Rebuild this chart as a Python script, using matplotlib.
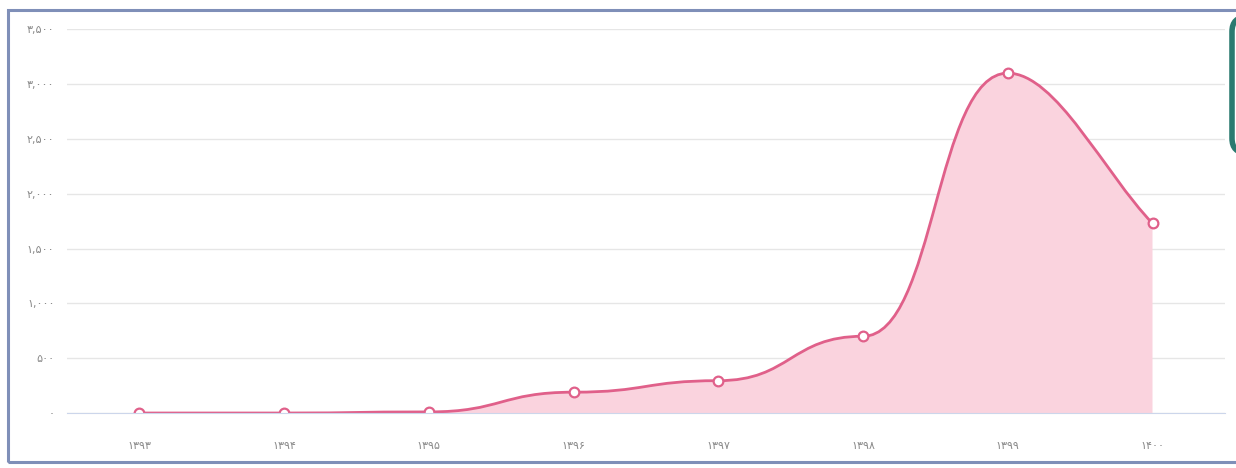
import numpy as np
import matplotlib.pyplot as plt
from matplotlib.path import Path
from matplotlib.patches import PathPatch, Rectangle, FancyBboxPatch

# data
years = ['۱۳۹۳', '۱۳۹۴', '۱۳۹۵', '۱۳۹۶', '۱۳۹۷', '۱۳۹۸', '۱۳۹۹', '۱۴۰۰']
values = [0, 0, 10, 190, 295, 700, 3100, 1730]
y_ticks = [0, 500, 1000, 1500, 2000, 2500, 3000, 3500]
y_labels = ['۰', '۵۰۰', '۱,۰۰۰', '۱,۵۰۰', '۲,۰۰۰', '۲,۵۰۰', '۳,۰۰۰', '۳,۵۰۰']

LINE = '#e0608a'
FILL = '#fad3de'


def smooth_path(xs, ys):
    # flat tangent at every inner point, the last point keeps the slope of its segment
    n = len(xs)
    verts = [(xs[0], ys[0])]
    codes = [Path.MOVETO]
    for i in range(1, n):
        x0, y0, x1, y1 = xs[i - 1], ys[i - 1], xs[i], ys[i]
        dx = x1 - x0
        if i == n - 1:
            slope = (y1 - y0) / dx
            c1 = (x0 + dx / 3, y0)
            c2 = (x1 - dx / 3, y1 - slope * dx / 3)
        else:
            c1 = (x0 + dx / 2, y0)
            c2 = (x1 - dx / 2, y1)
        verts += [c1, c2, (x1, y1)]
        codes += [Path.CURVE4] * 3
    return verts, codes


x = np.arange(len(years))
fig = plt.figure(figsize=(12.36, 4.68), dpi=100)
ax = fig.add_axes([0.0542, 0.1175, 0.9368, 0.8199])

verts, codes = smooth_path(list(x), values)
fill_verts = verts + [(x[-1], 0), (x[0], 0), (x[0], values[0])]
fill_codes = codes + [Path.LINETO, Path.LINETO, Path.CLOSEPOLY]
ax.add_patch(PathPatch(Path(fill_verts, fill_codes), facecolor=FILL, edgecolor='none', zorder=2))
ax.add_patch(PathPatch(Path(verts, codes), facecolor='none', edgecolor=LINE, lw=2, zorder=3))
ax.plot(x, values, 'o', ms=7, mfc='white', mec=LINE, mew=1.6, zorder=4)

ax.set_xlim(-0.5, len(years) - 0.5)
ax.set_ylim(0, 3500)
ax.set_yticks(y_ticks)
ax.set_yticklabels(y_labels)
ax.set_xticks(x)
ax.set_xticklabels(years)
ax.tick_params(axis='both', length=0, labelsize=8, labelcolor='#8a8a8a')
ax.tick_params(axis='y', pad=9)
ax.tick_params(axis='x', pad=20)
ax.grid(axis='y', color='#e6e6e6', lw=1)
ax.set_axisbelow(True)
for s in ['top', 'right', 'left']:
    ax.spines[s].set_visible(False)
ax.spines['bottom'].set_color('#ccd6eb')
ax.spines['bottom'].set_zorder(5)

# outer frame and the box cut off on the right
fig.patches.append(Rectangle((8 / 1236, 6 / 468), 1.1, 1 - 16 / 468, transform=fig.transFigure,
                             fill=False, edgecolor='#7f8fb8', lw=2.2))
fig.patches.append(FancyBboxPatch((1232 / 1236, 315 / 468), 0.05, 136 / 468,
                                  boxstyle='round,pad=0,rounding_size=0.012',
                                  transform=fig.transFigure, facecolor='white',
                                  edgecolor='#2a7a70', lw=4, mutation_aspect=2.6))

fig.savefig('out.png', dpi=100)
